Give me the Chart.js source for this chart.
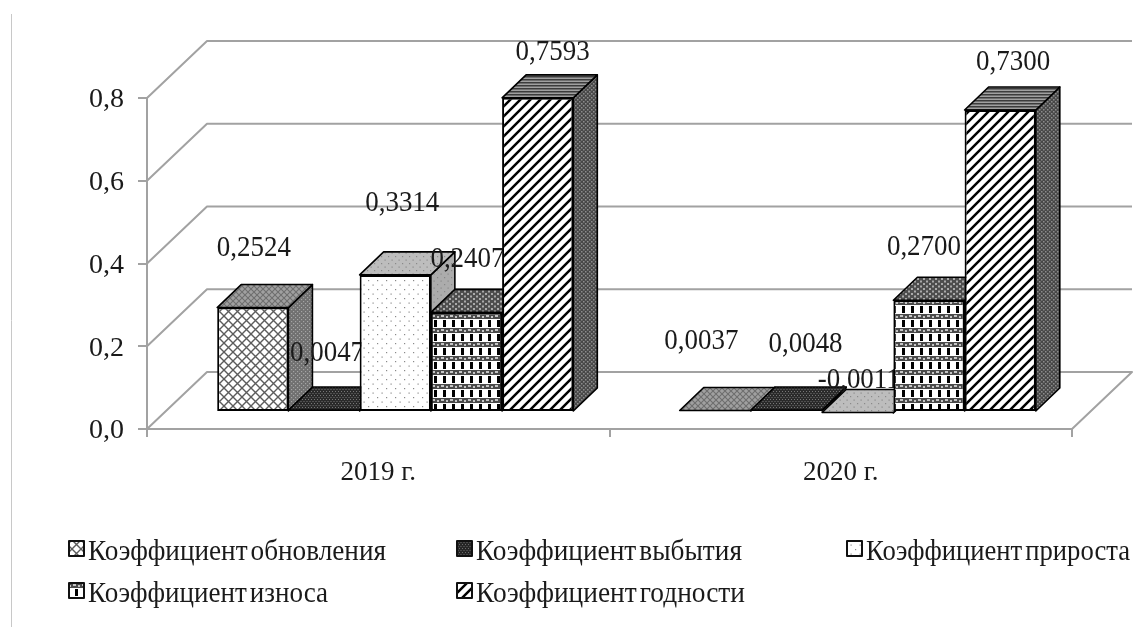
<!DOCTYPE html>
<html><head><meta charset="utf-8">
<style>html,body{margin:0;padding:0;background:#fff}canvas{display:block;filter:blur(0.5px)}</style>
<script src="https://cdn.jsdelivr.net/npm/chart.js@4"></script>
</head><body><canvas id="c" width="1134" height="627"></canvas>
<script>
const categories = ['2019 г.', '2020 г.'];
const seriesNames = ['Коэффициент обновления','Коэффициент выбытия','Коэффициент прироста','Коэффициент износа','Коэффициент годности'];
const obnovleniya = [0.2524, 0.0037];
const vybytiya = [0.0047, 0.0048];
const prirosta = [0.3314, -0.0011];
const iznosa = [0.2407, 0.2700];
const godnosti = [0.7593, 0.7300];
const yTicks = [0, 0.2, 0.4, 0.6, 0.8];

// layout
const FONT = '"Liberation Serif","Times New Roman",serif';
const GRID = '#a2a2a2';
const WALL = {dx: 60, dy: -57};
const MID = {dx: 17, dy: -17};
const DEPTH = {dx: 24, dy: -23};
const labelNudges = [
  [[1,-59],[-14,-69]],
  [[3,-57],[19,-66]],
  [[7,-71],[1,-32]],
  [[1,-53],[-5,-53]],
  [[15,-45],[13,-48]]
];
const legendSpots = [[68,552,298],[456,552,266],[846,552,264],[68,594,240],[456,594,269]];

const cv = document.getElementById('c');
const mctx = cv.getContext('2d');
function tile(w,h,fn){const t=document.createElement('canvas');t.width=w;t.height=h;const x=t.getContext('2d');fn(x,w,h);return mctx.createPattern(t,'repeat');}
function dots(bg,fg,w,h,s){return tile(w,h,(x)=>{x.fillStyle=bg;x.fillRect(0,0,w,h);x.fillStyle=fg;x.fillRect(0,0,s,s);x.fillRect(w/2,h/2,s,s);});}
function lattice(bg,fg,n,lw){return tile(n,n,(x)=>{x.fillStyle=bg;x.fillRect(0,0,n,n);x.strokeStyle=fg;x.lineWidth=lw;x.beginPath();x.moveTo(0,0);x.lineTo(n,n);x.moveTo(n,0);x.lineTo(0,n);x.stroke();});}
function diag(bg,fg,n,lw){return tile(n,n,(x)=>{x.fillStyle=bg;x.fillRect(0,0,n,n);x.strokeStyle=fg;x.lineWidth=lw;x.beginPath();x.moveTo(-2,2);x.lineTo(2,-2);x.moveTo(0,n);x.lineTo(n,0);x.moveTo(n-2,n+2);x.lineTo(n+2,n-2);x.stroke();});}
const brick = tile(9,14,(x)=>{x.fillStyle='#fff';x.fillRect(0,0,9,14);x.fillStyle='#000';x.fillRect(3,1,3,7);x.fillStyle='#4a4a4a';x.fillRect(0,9,9,5);x.fillStyle='#c4c4c4';x.fillRect(1,10,3,2);x.fillRect(6,11,2,2);});
const hstripe = tile(3,3,(x)=>{x.fillStyle='#a0a0a0';x.fillRect(0,0,3,3);x.fillStyle='#3c3c3c';x.fillRect(0,0,3,1.5);});

const fronts = [lattice('#fff','#5c5c5c',9,1.4), dots('#262626','#6a6a6a',3,4,1), dots('#fff','#8a8a8a',9,9,1.2), brick, diag('#fff','#000',10,2.5)];
const tops = [lattice('#a0a0a0','#6e6e6e',6,1.1), dots('#2a2a2a','#777',3,4,1), dots('#bdbdbd','#8a8a8a',7,7,1.2), dots('#4d4d4d','#aaa',6,5,2), hstripe];
const sides = [dots('#707070','#a5a5a5',4,4,1.2), dots('#333','#777',3,4,1), dots('#acacac','#888',7,7,1.2), dots('#555','#999',4,4,1), dots('#484848','#8d8d8d',4,4,1.5)];

const allValues = [obnovleniya, vybytiya, prirosta, iznosa, godnosti];

function decimal(v, n){return v.toFixed(n).replace('.', ',');}

function face(ctx, pts, fill){
  ctx.beginPath();pts.forEach((p,i)=>i?ctx.lineTo(p[0],p[1]):ctx.moveTo(p[0],p[1]));ctx.closePath();
  ctx.fillStyle=fill;ctx.fill();ctx.strokeStyle='#000';ctx.lineWidth=1.6;ctx.stroke();
}

const scene = {
  id:'scene',
  beforeDatasetsDraw(chart){
    const ctx=chart.ctx, ys=chart.scales.y, a=chart.chartArea;
    ctx.save();
    ctx.strokeStyle='#c8c8c8';ctx.lineWidth=1;ctx.beginPath();ctx.moveTo(11.5,14);ctx.lineTo(11.5,627);ctx.stroke();
    ctx.strokeStyle=GRID;ctx.lineWidth=2;ctx.lineJoin='round';
    yTicks.forEach(v=>{
      const y=ys.getPixelForValue(v);
      ctx.beginPath();ctx.moveTo(a.left,y);ctx.lineTo(a.left+WALL.dx,y+WALL.dy);ctx.lineTo(a.right+WALL.dx,y+WALL.dy);
      if(v===0){ctx.lineTo(a.right,y);}
      ctx.stroke();
    });
    chart.data.datasets.forEach((ds,i)=>{
      const meta=chart.getDatasetMeta(i);
      ctx.save();ctx.translate(MID.dx,MID.dy);
      meta.data.forEach(el=>{
        const p=el.getProps(['x','y','base','width'],true);
        const l=p.x-p.width/2,r=p.x+p.width/2,t=Math.min(p.y,p.base),b=Math.max(p.y,p.base);
        face(ctx,[[r,t],[r+DEPTH.dx,t+DEPTH.dy],[r+DEPTH.dx,b+DEPTH.dy],[r,b]],sides[i]);
        face(ctx,[[l,t],[l+DEPTH.dx,t+DEPTH.dy],[r+DEPTH.dx,t+DEPTH.dy],[r,t]],tops[i]);
      });
      meta.controller.draw();
      ctx.restore();
      ctx.fillStyle='#1a1a1a';ctx.font='29px '+FONT;ctx.textAlign='center';ctx.textBaseline='middle';
      meta.data.forEach((el,k)=>{
        const p=el.getProps(['x','y','base'],true);
        const t=Math.min(p.y,p.base);
        const text=decimal(ds.data[k],4);
        ctx.fillText(text,p.x+MID.dx+labelNudges[i][k][0],t+MID.dy+labelNudges[i][k][1],ctx.measureText(text).width*0.93);
      });
    });
    ctx.textAlign='left';ctx.textBaseline='middle';ctx.font='29px '+FONT;
    if('wordSpacing' in ctx) ctx.wordSpacing='-4px';
    chart.data.datasets.forEach((ds,i)=>{
      const s=legendSpots[i];
      ctx.fillStyle=fronts[i];ctx.strokeStyle='#111';ctx.lineWidth=2;
      ctx.fillRect(s[0]+1,s[1]-11,15,15);ctx.strokeRect(s[0]+1,s[1]-11,15,15);
      ctx.fillStyle='#1a1a1a';
      ctx.fillText(ds.label,s[0]+20,s[1],s[2]);
    });
    ctx.restore();
    return false;
  }
};

new Chart(cv,{
  type:'bar',
  data:{labels:categories,datasets:seriesNames.map((n,i)=>({
    label:n,data:allValues[i],backgroundColor:fronts[i],borderColor:'#000',borderWidth:2,borderSkipped:false,
    categoryPercentage:0.77,barPercentage:1,clip:false
  }))},
  options:{
    responsive:false,animation:false,
    layout:{padding:{left:0,right:62,top:98,bottom:0}},
    plugins:{legend:{display:false},tooltip:{enabled:false},title:{display:false}},
    scales:{
      x:{
        afterFit(s){s.height=198;},
        grid:{drawOnChartArea:false,color:GRID,lineWidth:2,tickLength:8,offset:true},
        border:{color:GRID,width:2},
        ticks:{color:'#1a1a1a',font:{family:FONT,size:27},padding:20,maxRotation:0}
      },
      y:{
        min:0,max:0.8,
        afterFit(s){s.width=147;},
        afterBuildTicks(s){s.ticks=yTicks.map(v=>({value:v}));},
        grid:{drawOnChartArea:false,color:GRID,lineWidth:2,tickLength:9},
        border:{color:GRID,width:2},
        ticks:{color:'#1a1a1a',font:{family:FONT,size:28},padding:14,labelOffset:2,callback:v=>decimal(v,1)}
      }
    }
  },
  plugins:[scene]
});
</script></body></html>
